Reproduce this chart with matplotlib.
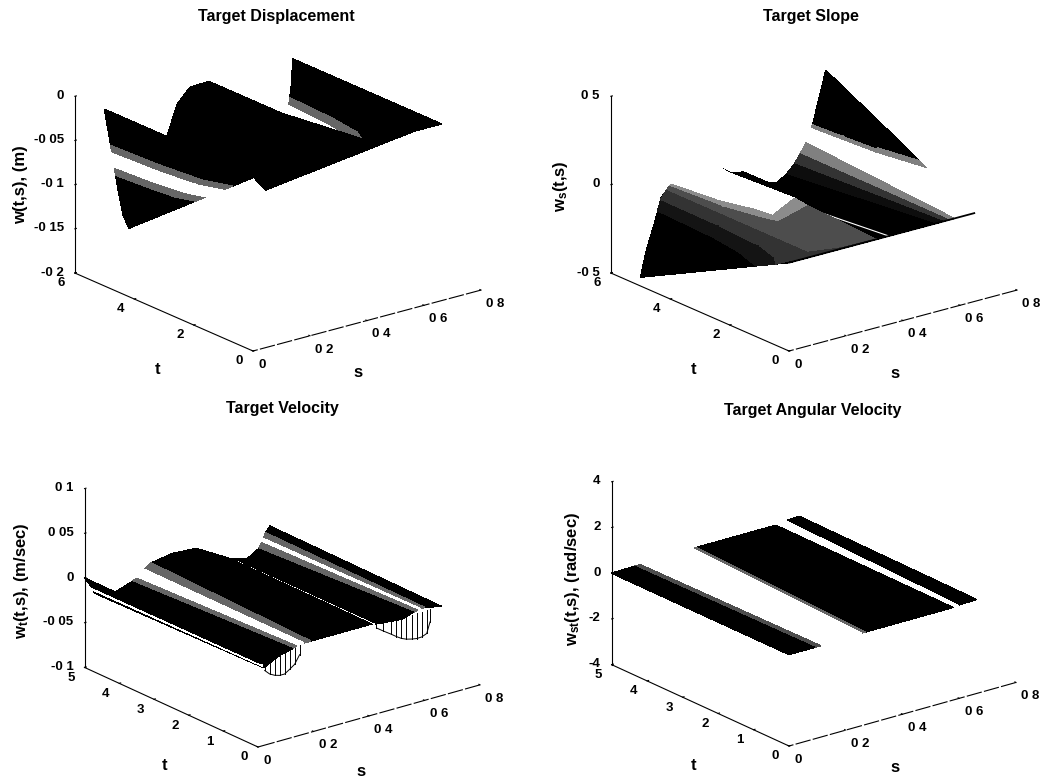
import numpy as np
import matplotlib
matplotlib.use('Agg')
import matplotlib.pyplot as plt
from mpl_toolkits.mplot3d import proj3d

plt.rcParams['font.family'] = ['Liberation Sans', 'DejaVu Sans']
plt.rcParams['mathtext.default'] = 'regular'

W, H = 1042, 778

# values
# displacement: height along the back row t=5, the front row t=0 sits at zero
disp_s = [0, .01, .02, .03, .04, .05, .065, .085, .11, .15, .19, .225, .255, .30, .366, .42, .48, .53, .565, .60, .63, .645, .655, .661]
disp_back = [0, -.02, -.04, -.06, -.08, -.10, -.125, -.142, -.135, -.115, -.08, -.044, -.016, -.001, 0, -.02, -.08, -.125, -.14, -.115, -.08, -.055, -.03, 0]

# pale bands on the displacement surface, one column per height level
disp_levels = [-.043, -.05, -.068, -.078]
disp_band_gray = [.4, 1, .4]
band_a_s = [[.0215, .025, .034, .039], [.0307, .0357, .0436, .049], [.049, .052, .06, .061], [.085, .085, .085, .085]]
band_a_t = [[5, 5, 5, 5], [3.5, 3.5, 3.9, 4], [2.2, 2.4, 2.9, 3.2], [1.51, 1.76, 2.39, 2.75]]
band_d_s = [[.65, .647, .637, .631], [.641, .635, .626, .614], [.625, .616, .597, .59], [.565, .565, .565, .565]]
band_d_t = [[5, 5, 5, 5], [3.5, 3.5, 3.9, 4], [2.5, 2.6, 2.9, 3.2], [1.54, 1.79, 2.43, 2.79]]

# slope: same layout as the displacement
slope_s = [0, .02, .05, .073, .107, .154, .22, .28, .306, .32, .36, .40, .446, .481, .51, .54, .56, .58, .61, .63, .65]
slope_back = [-.45, -.31, -.16, -.03, .03, .03, .05, .05, .01, 0, -.01, -.06, -.11, -.12, -.09, -.043, .005, .06, .18, .31, .44]
valley_gray = [0, 0, 0, 0, 0, 0, .05, .2, .5]

# slope, left part: gray steps between height levels
left_s = [[.06, .071, .09, .10, .107, .107], [.055, .068, .09, .115, .128, .154], [.049, .055, .09, .14, .161, .22], [.032, .032, .2, .16, .172, .28], [0, 0, .306, .306, .306, .306]]
left_t = [[5, 5, 5, 5, 5, 5], [4, 3, 3, 3.3, 3.59, 5], [3, 1.5, 0, 2.4, 2.77, 5], [2, .8, 0, 1.9, 2.2, 5], [1.11, .44, 0, 2.3, 2.75, 5]]
left_z = [[-.1, -.04, 0, .02, .03, .03], [-.1, -.04, 0, .02, .03, .03], [-.1, -.04, 0, .02, .03, .05], [-.1, -.04, 0, .02, .03, .05], [-.1, -.04, 0, .02, .03, .01]]
left_gray = [.08, .2, .3, .55, 1]

# slope, dark wedge at the far end
wedge_s = [[.60, .605, .65], [.607, .613, .65], [.618, .623, .65], [.65, .65, .65]]
wedge_t = [[5, 5, 5], [4.2, 4, 4], [3, 3, 3], [1.63, 1.86, 1.86]]
wedge_z = [[.14, .16, .44], [.14, .16, .352], [.14, .16, .264], [.14, .16, .16]]
wedge_gray = [.5, 0]

streak_s = [.35, .35]
streak_t = [0, 2.85]
streak_z = [0, -.045]

# velocity and angular velocity: each column runs along t, front row t=0, back row t=5
vel_s_back = [0, .025, .03, .036, .114, .17, .187, .20, .215, .24, .319, .403, .52, .525, .584, .60, .626, .638, .645, .652, .668]
vel_s_front = [0, .012, .016, .02, .08, .125, .138, .147, .165, .19, .30, .40, .413, .418, .48, .52, .56, .575, .585, .60, .66]
vel_z_back = [0, -.012, -.016, -.02, -.025, -.019, -.0165, -.013, -.009, -.004, 0, -.002, -.023, -.024, -.029, -.027, -.022, -.016, -.012, -.006, 0]
vel_z_front = [0, -.008, -.011, -.013, -.004, -.001, .001, .002, .002, .002, .002, .002, .001, .001, -.001, -.002, .002, .003, .004, .004, 0]
vel_gray = [0, 1, 0, 0, 0, .4, 1, 1, .4, 0, 0, 0, 1, 0, 0, 0, .4, 1, .4, 0]

stem_s_1 = [.024, .042, .06, .078, .096, .114, .132, .15]
stem_top_1 = [-.0105, -.0083, -.006, -.0032, -.0011, .001, .0026, .0023]
stem_low_1 = [-.0165, -.022, -.025, -.0267, -.0267, -.023, -.019, -.0098]
stem_s_2 = [.427, .451, .481, .499, .517, .535, .554, .572, .59, .608, .62]
stem_top_2 = [0, 0, 0, 0, 0, 0, 0, 0, 0, 0, 0]
stem_low_2 = [-.004, -.0094, -.0158, -.0199, -.0235, -.0259, -.0274, -.0284, -.0282, -.0259, -.0139]

ang_s_back = [0, .08, .1, .285, .298, .32, .578, .614, .66]
ang_s_front = [0, .09, .111, .255, .269, .29, .578, .596, .66]
ang_z_back = [0, .02, .03, .08, .09, .09, .09, .15, .2]
ang_z_front = [0, 0, 0, .05, .05, .05, .05, .08, .12]
ang_gray = [0, .3, 1, .4, 0, 0, 1, 0]

s_ticks = [0, .2, .4, .6, .8]
s_labels = ['0', '0 2', '0 4', '0 6', '0 8']


def draw_strip(ax, s, t, z, grays, order):
    # each column of the mesh keeps one gray level
    s = np.array(s, dtype=float)
    g = np.tile(np.array(grays, dtype=float), (s.shape[0] - 1, 1))
    colors = np.dstack([g, g, g, np.ones_like(g)])
    ax.plot_surface(s, np.array(t, dtype=float), np.array(z, dtype=float), rstride=1, cstride=1, shade=False,
                    linewidth=.3, antialiased=False, facecolors=colors, zorder=order)


def draw_rows(ax, s, back, grays, order):
    # front row t=0 at zero height, back row t=5 as read
    draw_strip(ax, [s, s], [[0] * len(s), [5] * len(s)], [[0] * len(s), back], grays, order)


def px(ax, x, y, z):
    a, b, _ = proj3d.proj_transform(x, y, z, ax.get_proj())
    return ax.transData.transform((a, b))


def fit_axes(ax, origin, s_end):
    # move the square axes so the t=0 corner and the far s corner land on the given pixels
    ax.set_position([0.2, 0.2, 0.5, 0.5 * W / H])
    zlo = ax.get_zlim()[0]
    ax.apply_aspect()
    p0 = px(ax, 0, 0, zlo)
    p1 = px(ax, .8, 0, zlo)
    scale = (s_end[0] - origin[0]) / (p1[0] - p0[0])
    size = 0.5 * W * scale
    ax.set_position([0.2, 0.2, size / W, size / H])
    ax.apply_aspect()
    p0 = px(ax, 0, 0, zlo)
    ax.set_position([0.2 + (origin[0] - p0[0]) / W, 0.2 + (H - origin[1] - p0[1]) / H, size / W, size / H])


def style_axes(ax, elev, aspect, tmax, t_ticks, z_lim, z_ticks, z_labels, origin, s_end):
    ax.set_proj_type('ortho')
    ax.view_init(elev=elev, azim=-128)
    ax.set_box_aspect((1, 1, aspect))
    ax.set_facecolor('none')
    ax.grid(False)
    ax.set_xlim(0, .8)
    ax.set_ylim(0, tmax)
    ax.set_zlim(*z_lim)
    ax.set_xticks(s_ticks)
    ax.set_xticklabels(s_labels, fontsize=9.5, fontweight='bold', ha='left')
    ax.set_yticks(t_ticks)
    ax.set_yticklabels([str(v) for v in t_ticks], fontsize=9.5, fontweight='bold', ha='right', va='center')
    ax.set_zticks(z_ticks)
    ax.set_zticklabels(z_labels, fontsize=9.5, fontweight='bold', ha='right', va='center')
    for axis in (ax.xaxis, ax.yaxis, ax.zaxis):
        axis.pane.set_visible(False)
        axis.line.set_color('black')
        axis.line.set_linewidth(.8)
        axis._axinfo['tick']['inward_factor'] = 0.0
        axis._axinfo['tick']['outward_factor'] = 0.08
        axis._axinfo['tick']['linewidth'] = {True: .8, False: .5}
    ax.xaxis.line.set_linestyle((0, (14, 2)))
    ax.zaxis.set_ticks_position('upper')
    ax.tick_params(axis='x', pad=-3)
    ax.tick_params(axis='y', pad=-1)
    ax.tick_params(axis='z', pad=-3.5)
    fit_axes(ax, origin, s_end)


def labels(title, title_xy, zlabel, zlabel_xy, t_xy, s_xy):
    fig.text(title_xy[0] / W, 1 - title_xy[1] / H, title, ha='center', va='center', fontsize=11.5, fontweight='bold')
    fig.text(zlabel_xy[0] / W, 1 - zlabel_xy[1] / H, zlabel, ha='center', va='center', rotation=90, fontsize=12, fontweight='bold')
    fig.text(t_xy[0] / W, 1 - t_xy[1] / H, 't', ha='center', va='center', fontsize=12, fontweight='bold')
    fig.text(s_xy[0] / W, 1 - s_xy[1] / H, 's', ha='center', va='center', fontsize=12, fontweight='bold')


fig = plt.figure(figsize=(W / 100, H / 100), dpi=100)

# Target Displacement, drawn back to front by hand since the surface folds over itself
ax1 = fig.add_subplot(221, projection='3d', computed_zorder=False)
draw_rows(ax1, disp_s, disp_back, [0] * (len(disp_s) - 1), 1)
draw_strip(ax1, band_d_s, band_d_t, [disp_levels] * 4, disp_band_gray, 2)
draw_rows(ax1, disp_s[:19], disp_back[:19], [0] * 18, 3)
draw_rows(ax1, disp_s[:8], disp_back[:8], [0] * 7, 4)
draw_strip(ax1, band_a_s, band_a_t, [disp_levels] * 4, disp_band_gray, 5)
style_axes(ax1, 20, .65, 6, [0, 2, 4, 6], (-.2, 0), [-.2, -.15, -.1, -.05, 0], ['-0 2', '-0 15', '-0 1', '-0 05', '0'], (253, 351), (481, 289))
labels('Target Displacement', (276, 17), 'w(t,s), (m)', (21, 185), (158, 369), (358, 372))

# Target Slope
ax2 = fig.add_subplot(222, projection='3d', computed_zorder=False)
draw_rows(ax2, slope_s[17:], slope_back[17:], [1, 1, 1], 1)
draw_strip(ax2, wedge_s, wedge_t, wedge_z, wedge_gray, 2)
draw_rows(ax2, slope_s[8:18], slope_back[8:18], valley_gray, 3)
ax2.plot(streak_s, streak_t, streak_z, color='white', linewidth=.8, zorder=4)
draw_rows(ax2, slope_s[:9], slope_back[:9], [0] * 8, 5)
draw_strip(ax2, left_s, left_t, left_z, left_gray, 6)
ax2.plot(slope_s, [0] * len(slope_s), [0] * len(slope_s), color='black', linewidth=1.3, zorder=7)
style_axes(ax2, 20, .65, 6, [0, 2, 4, 6], (-.5, .5), [-.5, 0, .5], ['-0 5', '0', '0 5'], (789, 351), (1017, 290))
labels('Target Slope', (811, 17), r'w$_{s}$(t,s)', (561, 186), (694, 369), (895, 373))

# Target Velocity
ax3 = fig.add_subplot(223, projection='3d')
draw_strip(ax3, [vel_s_front, vel_s_back], [[0] * len(vel_s_front), [5] * len(vel_s_back)], [vel_z_front, vel_z_back], vel_gray, 1)
for s_vals, tops, lows in ((stem_s_1, stem_top_1, stem_low_1), (stem_s_2, stem_top_2, stem_low_2)):
    for s, top, low in zip(s_vals, tops, lows):
        ax3.plot([s, s], [0, 0], [top, low], color='black', linewidth=.7)
    ax3.plot(s_vals, [0] * len(s_vals), lows, color='black', linewidth=.7)
style_axes(ax3, 21, .68, 5, [0, 1, 2, 3, 4, 5], (-.1, .1), [-.1, -.05, 0, .05, .1], ['-0 1', '-0 05', '0', '0 05', '0 1'], (258, 747), (480, 684))
labels('Target Velocity', (282, 409), r'w$_{t}$(t,s), (m/sec)', (22, 581), (165, 765), (361, 771))

# Target Angular Velocity
ax4 = fig.add_subplot(224, projection='3d')
draw_strip(ax4, [ang_s_front, ang_s_back], [[0] * len(ang_s_front), [5] * len(ang_s_back)], [ang_z_front, ang_z_back], ang_gray, 1)
style_axes(ax4, 21, .68, 5, [0, 1, 2, 3, 4, 5], (-4, 4), [-4, -2, 0, 2, 4], ['-4', '-2', '0', '2', '4'], (789, 746), (1016, 684))
labels('Target Angular Velocity', (813, 411), r'w$_{st}$(t,s), (rad/sec)', (573, 579), (694, 765), (895, 768))

fig.savefig('out.png', dpi=100)
